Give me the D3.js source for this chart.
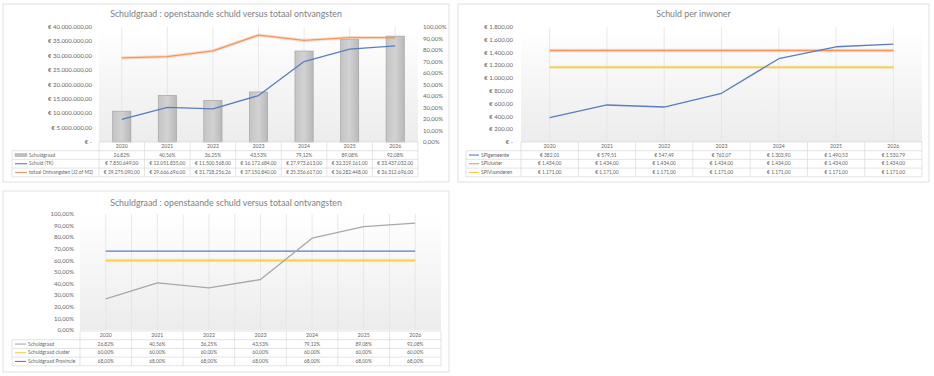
<!DOCTYPE html>
<html lang="nl">
<head>
<meta charset="UTF-8">
<title>Schuldgraad</title>
<script src="https://d3js.org/d3.v7.min.js"></script>
<style>
  body { margin: 0; background: #fff; }
  svg { font-family: Lato, "Open Sans", sans-serif; }
  .tick-label { fill: #666; font-size: 6px; }
  .title { fill: #808080; font-size: 8.8px; }
  .cell { fill: #666; font-size: 4.9px; }
  .year { fill: #666; font-size: 5.2px; }
  .grid { stroke: #e3e3e3; stroke-width: 0.8; }
  .tbl { stroke: #d9d9d9; stroke-width: 0.7; fill: none; }
</style>
</head>
<body>
<svg width="934" height="376"></svg>
<script>
// ---- data ----
const years = ["2020", "2021", "2022", "2023", "2024", "2025", "2026"];

// chart 1
const schuldgraad = [26.82, 40.56, 36.25, 43.53, 79.12, 89.08, 92.08];
const schuldTK = [7850649, 12051835, 11500568, 16172684, 27973613, 32319161, 33437032];
const ontvangsten = [29275090, 29666696, 31728256.26, 37150840, 35356617, 36282448, 36312696];

// chart 2
const spiGemeente = [382.01, 579.51, 547.49, 762.07, 1303.90, 1490.53, 1530.79];
const spiCluster = [1434, 1434, 1434, 1434, 1434, 1434, 1434];
const spiVlaanderen = [1171, 1171, 1171, 1171, 1171, 1171, 1171];

// chart 3
const schuldgraadCluster = [60, 60, 60, 60, 60, 60, 60];
const schuldgraadProvincie = [68, 68, 68, 68, 68, 68, 68];

const nl = d3.formatLocale({decimal: ",", thousands: ".", grouping: [3], currency: ["€ ", ""]});
const eur = v => v === 0 ? "€ -" : nl.format("$,.2f")(v);
const pct = v => nl.format(",.2f")(v) + "%";

const C = {blue: "#5a7dc0", orange: "#f09860", yellow: "#f6cc4c", gray: "#a8a8a8"};

const svg = d3.select("svg");
const defs = svg.append("defs");
const bg = defs.append("linearGradient").attr("id", "plotbg").attr("x1", 0).attr("y1", 0).attr("x2", 0).attr("y2", 1);
bg.append("stop").attr("offset", "0%").attr("stop-color", "#ffffff");
bg.append("stop").attr("offset", "100%").attr("stop-color", "#ececec");
const bar = defs.append("linearGradient").attr("id", "bargrad").attr("x1", 0).attr("y1", 0).attr("x2", 1).attr("y2", 0);
bar.append("stop").attr("offset", "0%").attr("stop-color", "#c4c4c4");
bar.append("stop").attr("offset", "50%").attr("stop-color", "#d2d2d2");
bar.append("stop").attr("offset", "100%").attr("stop-color", "#b8b8b8");

function panel(box, title, titleY) {
  svg.append("rect")
    .attr("x", box.x0).attr("y", box.y0)
    .attr("width", box.x1 - box.x0).attr("height", box.y1 - box.y0)
    .attr("fill", "#fff").attr("stroke", "#d9d9d9").attr("stroke-width", 0.8);
  svg.append("text").attr("class", "title").attr("text-anchor", "middle")
    .attr("x", (box.x0 + box.x1) / 2).attr("y", titleY).text(title);
}

function plotArea(x, y) {
  const [l, r] = x.range(), [b, t] = y.range();
  svg.append("rect").attr("x", l).attr("y", t).attr("width", r - l).attr("height", b - t)
    .attr("fill", "url(#plotbg)");
}

function leftAxis(y, ticks, fmt, xr) {
  svg.append("g").selectAll("text").data(ticks).join("text")
    .attr("class", "tick-label").attr("text-anchor", "end")
    .attr("x", xr).attr("y", d => y(d)).attr("dy", "0.35em").text(fmt);
}

function vGrid(x, y, centers, edges) {
  const [b, t] = y.range();
  const xs = [];
  if (centers) years.forEach(d => xs.push(x(d) + x.bandwidth() / 2));
  if (edges) years.forEach((d, i) => { if (i > 0) xs.push(x(d)); });
  svg.append("g").selectAll("line").data(xs).join("line").attr("class", "grid")
    .attr("x1", d => d).attr("x2", d => d).attr("y1", t).attr("y2", b);
}

function line(x, y, vals, color, width, glow) {
  const gen = d3.line().x((d, i) => x(years[i]) + x.bandwidth() / 2).y(d => y(d));
  if (glow) svg.append("path").attr("d", gen(vals)).attr("fill", "none")
    .attr("stroke", color).attr("stroke-opacity", 0.3).attr("stroke-width", width + 2);
  svg.append("path").attr("d", gen(vals)).attr("fill", "none")
    .attr("stroke", color).attr("stroke-width", width).attr("stroke-linejoin", "round");
}

// data table under the plot
function table(x, legL, keyW, top, rowH, rows) {
  const [l, r] = x.range();
  const g = svg.append("g");
  const bottom = top + rowH * (rows.length + 1);
  g.append("line").attr("class", "tbl").attr("x1", l).attr("x2", r).attr("y1", top).attr("y2", top);
  years.forEach(d => {
    g.append("line").attr("class", "tbl").attr("x1", x(d)).attr("x2", x(d)).attr("y1", top).attr("y2", bottom);
    g.append("text").attr("class", "year").attr("text-anchor", "middle")
      .attr("x", x(d) + x.bandwidth() / 2)
      .attr("y", top + rowH / 2).attr("dy", "0.35em").text(d);
  });
  g.append("line").attr("class", "tbl").attr("x1", r).attr("x2", r).attr("y1", top).attr("y2", bottom);
  g.append("line").attr("class", "tbl").attr("x1", legL).attr("x2", legL).attr("y1", top + rowH).attr("y2", bottom);
  rows.forEach((row, k) => {
    const yy = top + rowH * (k + 1);
    g.append("line").attr("class", "tbl").attr("x1", legL).attr("x2", r).attr("y1", yy).attr("y2", yy);
    const cy = yy + rowH / 2;
    if (row.key === "bar") {
      g.append("rect").attr("x", legL + 3).attr("y", cy - 1.5).attr("width", keyW).attr("height", 3)
        .attr("fill", "#bdbdbd").attr("stroke", "#a0a0a0").attr("stroke-width", 0.4);
    } else {
      g.append("line").attr("x1", legL + 3).attr("x2", legL + 3 + keyW).attr("y1", cy).attr("y2", cy)
        .attr("stroke", row.color).attr("stroke-width", 1.1);
    }
    g.append("text").attr("class", "cell").attr("text-anchor", "start")
      .attr("x", legL + 5 + keyW).attr("y", cy).attr("dy", "0.35em").text(row.label);
    row.values.forEach((v, i) => {
      g.append("text").attr("class", "cell").attr("text-anchor", "middle")
        .attr("x", x(years[i]) + x.bandwidth() / 2)
        .attr("y", cy).attr("dy", "0.35em").text(row.fmt(v));
    });
  });
  g.append("line").attr("class", "tbl").attr("x1", legL).attr("x2", r).attr("y1", bottom).attr("y2", bottom);
}

// ---- chart 1 ----
{
  panel({x0: 3, y0: 4, x1: 449, y1: 182}, "Schuldgraad : openstaande schuld versus totaal ontvangsten", 17);
  const x = d3.scaleBand().domain(years).range([99, 418]);
  const y = d3.scaleLinear().domain([0, 40000000]).range([142, 27]);
  const y2 = d3.scaleLinear().domain([0, 100]).range([142, 27]);
  plotArea(x, y);
  vGrid(x, y, true, false);
  const bw = x.bandwidth() * 0.4;
  svg.append("g").selectAll("rect").data(schuldgraad).join("rect")
    .attr("x", (d, i) => x(years[i]) + (x.bandwidth() - bw) / 2)
    .attr("y", d => y2(d)).attr("width", bw).attr("height", d => y2(0) - y2(d))
    .attr("fill", "url(#bargrad)").attr("stroke", "#9e9e9e").attr("stroke-width", 0.6);
  line(x, y, ontvangsten, C.orange, 1.3, true);
  line(x, y, schuldTK, C.blue, 1.3, false);
  leftAxis(y, d3.range(0, 40000001, 5000000), eur, 92);
  svg.append("g").selectAll("text").data(d3.range(0, 101, 10)).join("text")
    .attr("class", "tick-label").attr("x", 423).attr("y", d => y2(d)).attr("dy", "0.35em").text(pct);
  table(x, 12, 12, 142, 8.7, [
    {key: "bar", label: "Schuldgraad", values: schuldgraad, fmt: pct},
    {color: C.blue, label: "Schuld (TK)", values: schuldTK, fmt: eur},
    {color: C.orange, label: "totaal Ontvangsten (J2 of M2)", values: ontvangsten, fmt: eur}
  ]);
}

// ---- chart 2 ----
{
  panel({x0: 458, y0: 4, x1: 929, y1: 182}, "Schuld per inwoner", 17);
  const x = d3.scaleBand().domain(years).range([521, 922]);
  const y = d3.scaleLinear().domain([0, 1800]).range([142, 27]);
  plotArea(x, y);
  vGrid(x, y, true, false);
  line(x, y, spiCluster, C.orange, 1.5, true);
  line(x, y, spiVlaanderen, C.yellow, 1.5, true);
  line(x, y, spiGemeente, C.blue, 1.3, false);
  leftAxis(y, d3.range(0, 1801, 200), eur, 513);
  table(x, 466, 10, 142, 8.7, [
    {color: C.blue, label: "SPIgemeente", values: spiGemeente, fmt: eur},
    {color: C.orange, label: "SPIcluster", values: spiCluster, fmt: eur},
    {color: C.yellow, label: "SPIVlaanderen", values: spiVlaanderen, fmt: eur}
  ]);
}

// ---- chart 3 ----
{
  panel({x0: 3, y0: 191, x1: 449, y1: 372}, "Schuldgraad : openstaande schuld versus totaal ontvangsten", 206);
  const x = d3.scaleBand().domain(years).range([80, 441]);
  const y = d3.scaleLinear().domain([0, 100]).range([330, 214]);
  plotArea(x, y);
  vGrid(x, y, true, true);
  line(x, y, schuldgraadProvincie, C.blue, 1.3, false);
  line(x, y, schuldgraadCluster, C.yellow, 1.5, true);
  line(x, y, schuldgraad, C.gray, 1.3, false);
  leftAxis(y, d3.range(0, 101, 10), pct, 74);
  table(x, 12, 11, 331, 8.7, [
    {color: C.gray, label: "Schuldgraad", values: schuldgraad, fmt: pct},
    {color: C.yellow, label: "Schuldgraad cluster", values: schuldgraadCluster, fmt: pct},
    {color: C.blue, label: "Schuldgraad Provincie", values: schuldgraadProvincie, fmt: pct}
  ]);
}
</script>
</body>
</html>
